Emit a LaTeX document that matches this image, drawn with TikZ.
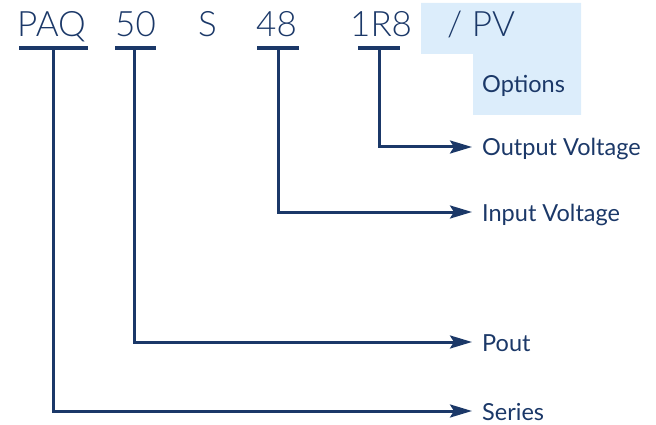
\documentclass[tikz,border=0pt]{standalone}
\usepackage{fontspec}
\setmainfont{Lato}
\newfontfamily\codefont{Lato Light}
\newfontfamily\lblfont{Lato}
\usetikzlibrary{arrows.meta}
\definecolor{navy}{RGB}{27,56,104}
\definecolor{optblue}{RGB}{220,237,251}
\begin{document}
\begin{tikzpicture}[x=1pt,y=-1pt,
  code/.style={anchor=base west,inner sep=0pt,text=navy,font=\codefont\fontsize{35}{35}\selectfont},
  lbl/.style={anchor=base west,inner sep=0pt,text=navy,font=\lblfont\fontsize{23.5}{23.5}\selectfont},
  bar/.style={draw=navy,line width=3.2pt},
  conn/.style={draw=navy,line width=3pt,-{Stealth[length=22pt,width=13pt,inset=4pt]}}]
\useasboundingbox (0,0) rectangle (656,425);
% options background
\fill[optblue] (421,3) -- (581,3) -- (581,115) -- (473,115) -- (473,54) -- (421,54) -- cycle;
% code texts
\node[code] (paq) at (17,37) {PAQ};
\node[code] (p50) at (115,37) {50};
\node[code] (s) at (198,37) {S};
\node[code] (p48) at (256,37) {48};
\node[code] (r18) at (350,37) {1R8};
\node[code] (pv) at (447,37) {/ PV};
% underline bars
\coordinate (paqL) at (19,48); \coordinate (paqR) at (88,48); \coordinate (paqM) at (53,48);
\coordinate (p50L) at (115,48); \coordinate (p50R) at (156,48); \coordinate (p50M) at (134,48);
\coordinate (p48L) at (257,48); \coordinate (p48R) at (299,48); \coordinate (p48M) at (278,48);
\coordinate (r18L) at (358,48); \coordinate (r18R) at (400,48); \coordinate (r18M) at (379,48);
\draw[bar] (paqL) -- (paqR);
\draw[bar] (p50L) -- (p50R);
\draw[bar] (p48L) -- (p48R);
\draw[bar] (r18L) -- (r18R);
% labels
\node[lbl] (opt) at (482,93) {Options};
\node[lbl] (outv) at (482,156) {Output Voltage};
\node[lbl] (inv) at (482,221) {Input Voltage};
\node[lbl] (pout) at (482,351) {Pout};
\node[lbl] (ser) at (482,420) {Series};
% connectors
\coordinate (outvT) at (472,147);
\coordinate (invT) at (472,212);
\coordinate (poutT) at (472,342);
\coordinate (serT) at (472,411);
\draw[conn] (r18M) |- (outvT);
\draw[conn] (p48M) |- (invT);
\draw[conn] (p50M) |- (poutT);
\draw[conn] (paqM) |- (serT);
\end{tikzpicture}
\end{document}
